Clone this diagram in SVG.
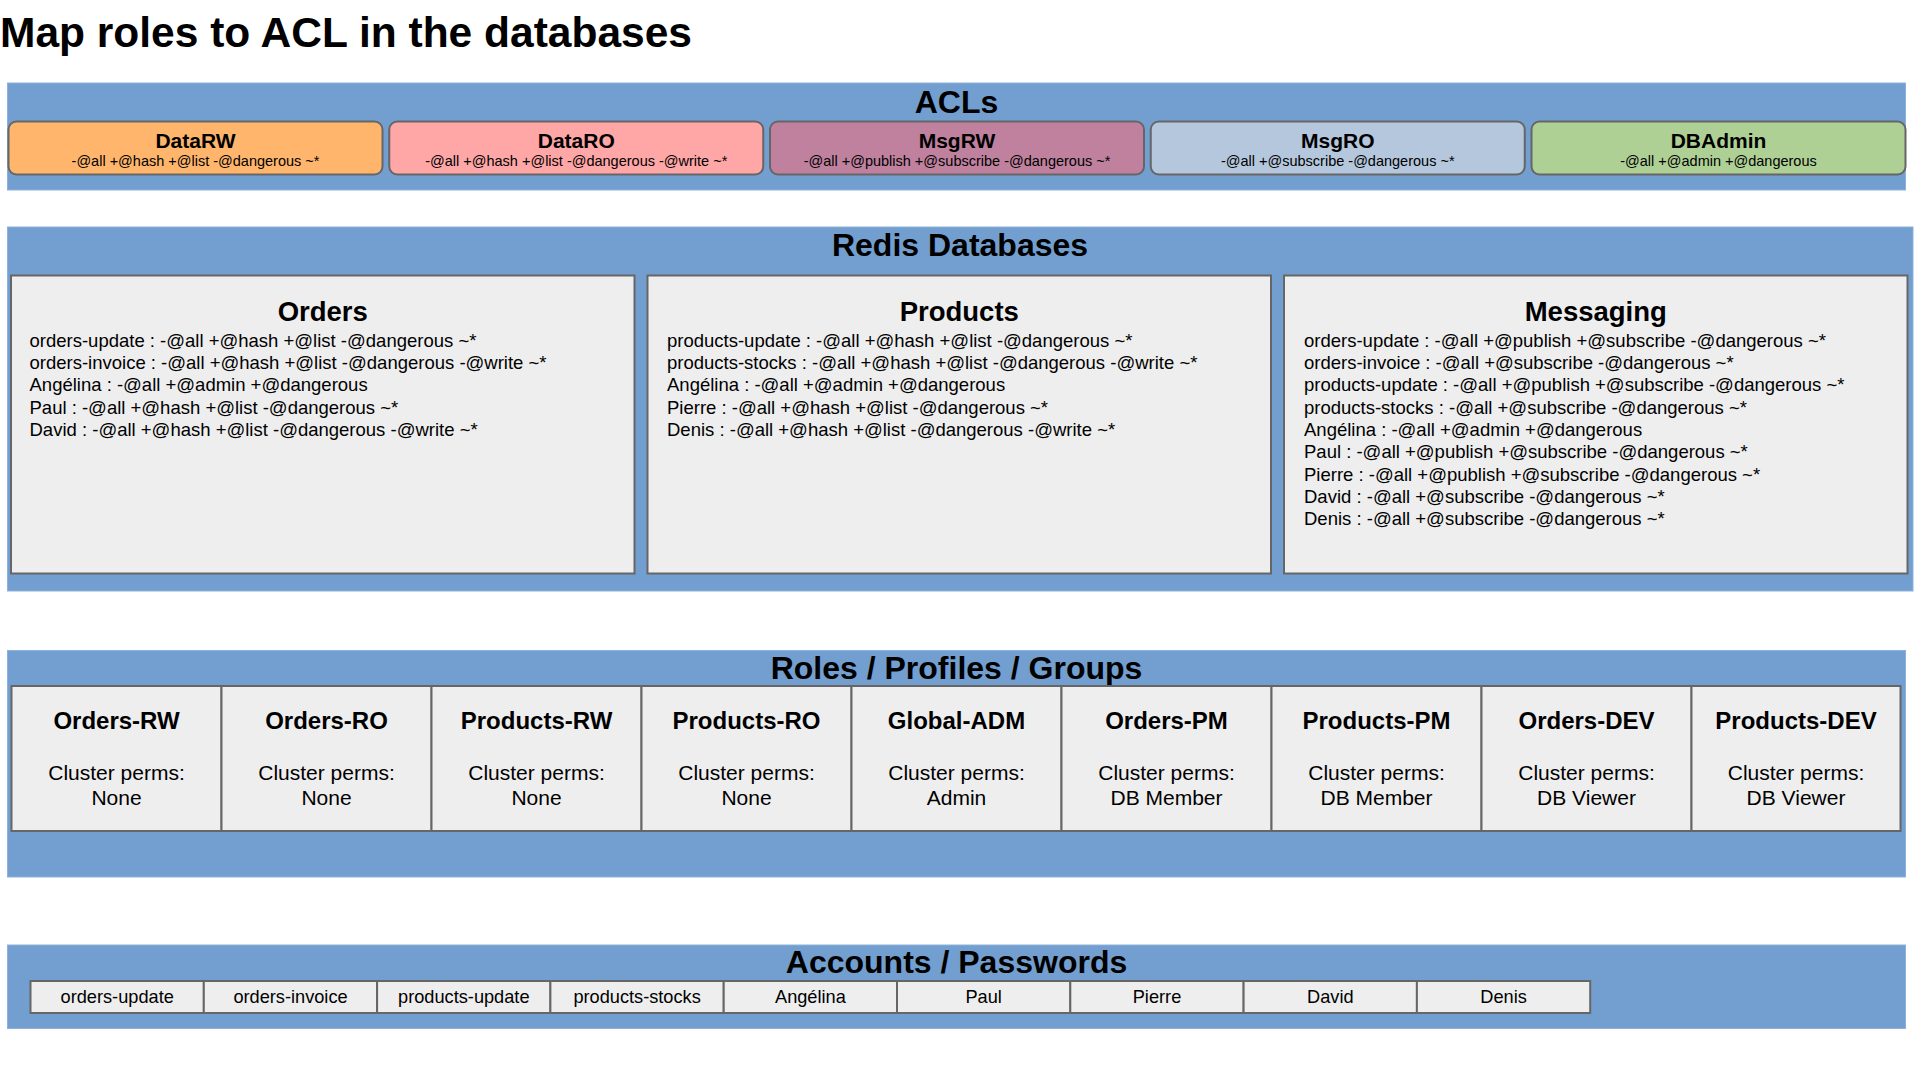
<svg xmlns="http://www.w3.org/2000/svg" width="1920" height="1080" viewBox="0 0 1920 1080">
<style>
text{font-family:"Liberation Sans",Arial,sans-serif;fill:#000}
.band{fill:#729fcf;stroke:#8db1da;stroke-width:1}
.box{fill:#eeeeee;stroke:#666666;stroke-width:2}
.acl{stroke:#666666;stroke-width:2}
.title{font-size:42.5px;font-weight:bold}
.bt{font-size:32px;font-weight:bold;text-anchor:middle}
.at{font-size:21px;font-weight:bold;text-anchor:middle}
.as{font-size:14.5px;text-anchor:middle}
.dh{font-size:27.5px;font-weight:bold;text-anchor:middle}
.dl{font-size:18.5px}
.rt{font-size:24px;font-weight:bold;text-anchor:middle}
.rs{font-size:21px;text-anchor:middle}
.ac{font-size:18.2px;text-anchor:middle}
</style>
<rect width="1920" height="1080" fill="#ffffff"/>
<text class="title" x="0" y="46.5">Map roles to ACL in the databases</text>

<g id="acls">
<rect class="band" x="7.5" y="83" width="1898" height="107"/>
<text class="bt" x="956.5" y="112.5">ACLs</text>
<g id="acl-datarw"><rect class="acl" x="8.5" y="121.5" width="374" height="53" rx="8" fill="#ffb66c"/><text class="at" x="195.5" y="148">DataRW</text><text class="as" x="195.5" y="166">-@all +@hash +@list -@dangerous ~*</text></g>
<g id="acl-dataro"><rect class="acl" x="389.25" y="121.5" width="374" height="53" rx="8" fill="#ffa6a6"/><text class="at" x="576.25" y="148">DataRO</text><text class="as" x="576.25" y="166">-@all +@hash +@list -@dangerous -@write ~*</text></g>
<g id="acl-msgrw"><rect class="acl" x="770" y="121.5" width="374" height="53" rx="8" fill="#bf819e"/><text class="at" x="957" y="148">MsgRW</text><text class="as" x="957" y="166">-@all +@publish +@subscribe -@dangerous ~*</text></g>
<g id="acl-msgro"><rect class="acl" x="1150.75" y="121.5" width="374" height="53" rx="8" fill="#b4c7dc"/><text class="at" x="1337.75" y="148">MsgRO</text><text class="as" x="1337.75" y="166">-@all +@subscribe -@dangerous ~*</text></g>
<g id="acl-dbadmin"><rect class="acl" x="1531.5" y="121.5" width="374" height="53" rx="8" fill="#afd095"/><text class="at" x="1718.5" y="148">DBAdmin</text><text class="as" x="1718.5" y="166">-@all +@admin +@dangerous</text></g>
</g>

<g id="redis-databases">
<rect class="band" x="7.5" y="227" width="1905.5" height="364"/>
<text class="bt" x="960" y="256">Redis Databases</text>
<g id="db-orders">
<rect class="box" x="11" y="275.5" width="623.5" height="298"/>
<text class="dh" x="322.75" y="321">Orders</text>
<text class="dl" x="29.5" y="346.7">orders-update : -@all +@hash +@list -@dangerous ~*</text>
<text class="dl" x="29.5" y="369">orders-invoice : -@all +@hash +@list -@dangerous -@write ~*</text>
<text class="dl" x="29.5" y="391.3">Angélina : -@all +@admin +@dangerous</text>
<text class="dl" x="29.5" y="413.6">Paul : -@all +@hash +@list -@dangerous ~*</text>
<text class="dl" x="29.5" y="435.9">David : -@all +@hash +@list -@dangerous -@write ~*</text>
</g>
<g id="db-products">
<rect class="box" x="647.5" y="275.5" width="623.5" height="298"/>
<text class="dh" x="959.25" y="321">Products</text>
<text class="dl" x="667" y="346.7">products-update : -@all +@hash +@list -@dangerous ~*</text>
<text class="dl" x="667" y="369">products-stocks : -@all +@hash +@list -@dangerous -@write ~*</text>
<text class="dl" x="667" y="391.3">Angélina : -@all +@admin +@dangerous</text>
<text class="dl" x="667" y="413.6">Pierre : -@all +@hash +@list -@dangerous ~*</text>
<text class="dl" x="667" y="435.9">Denis : -@all +@hash +@list -@dangerous -@write ~*</text>
</g>
<g id="db-messaging">
<rect class="box" x="1284" y="275.5" width="623.5" height="298"/>
<text class="dh" x="1595.75" y="321">Messaging</text>
<text class="dl" x="1304" y="346.7">orders-update : -@all +@publish +@subscribe -@dangerous ~*</text>
<text class="dl" x="1304" y="369">orders-invoice : -@all +@subscribe -@dangerous ~*</text>
<text class="dl" x="1304" y="391.3">products-update : -@all +@publish +@subscribe -@dangerous ~*</text>
<text class="dl" x="1304" y="413.6">products-stocks : -@all +@subscribe -@dangerous ~*</text>
<text class="dl" x="1304" y="435.9">Angélina : -@all +@admin +@dangerous</text>
<text class="dl" x="1304" y="458.2">Paul : -@all +@publish +@subscribe -@dangerous ~*</text>
<text class="dl" x="1304" y="480.5">Pierre : -@all +@publish +@subscribe -@dangerous ~*</text>
<text class="dl" x="1304" y="502.8">David : -@all +@subscribe -@dangerous ~*</text>
<text class="dl" x="1304" y="525.1">Denis : -@all +@subscribe -@dangerous ~*</text>
</g>
</g>

<g id="roles">
<rect class="band" x="7.5" y="650.5" width="1898" height="226.5"/>
<text class="bt" x="956.5" y="679">Roles / Profiles / Groups</text>
<g id="role-orders-rw"><rect class="box" x="11.5" y="686" width="210" height="145"/><text class="rt" x="116.5" y="728.5">Orders-RW</text><text class="rs" x="116.5" y="780">Cluster perms:</text><text class="rs" x="116.5" y="805">None</text></g>
<g id="role-orders-ro"><rect class="box" x="221.5" y="686" width="210" height="145"/><text class="rt" x="326.5" y="728.5">Orders-RO</text><text class="rs" x="326.5" y="780">Cluster perms:</text><text class="rs" x="326.5" y="805">None</text></g>
<g id="role-products-rw"><rect class="box" x="431.5" y="686" width="210" height="145"/><text class="rt" x="536.5" y="728.5">Products-RW</text><text class="rs" x="536.5" y="780">Cluster perms:</text><text class="rs" x="536.5" y="805">None</text></g>
<g id="role-products-ro"><rect class="box" x="641.5" y="686" width="210" height="145"/><text class="rt" x="746.5" y="728.5">Products-RO</text><text class="rs" x="746.5" y="780">Cluster perms:</text><text class="rs" x="746.5" y="805">None</text></g>
<g id="role-global-adm"><rect class="box" x="851.5" y="686" width="210" height="145"/><text class="rt" x="956.5" y="728.5">Global-ADM</text><text class="rs" x="956.5" y="780">Cluster perms:</text><text class="rs" x="956.5" y="805">Admin</text></g>
<g id="role-orders-pm"><rect class="box" x="1061.5" y="686" width="210" height="145"/><text class="rt" x="1166.5" y="728.5">Orders-PM</text><text class="rs" x="1166.5" y="780">Cluster perms:</text><text class="rs" x="1166.5" y="805">DB Member</text></g>
<g id="role-products-pm"><rect class="box" x="1271.5" y="686" width="210" height="145"/><text class="rt" x="1376.5" y="728.5">Products-PM</text><text class="rs" x="1376.5" y="780">Cluster perms:</text><text class="rs" x="1376.5" y="805">DB Member</text></g>
<g id="role-orders-dev"><rect class="box" x="1481.5" y="686" width="210" height="145"/><text class="rt" x="1586.5" y="728.5">Orders-DEV</text><text class="rs" x="1586.5" y="780">Cluster perms:</text><text class="rs" x="1586.5" y="805">DB Viewer</text></g>
<g id="role-products-dev"><rect class="box" x="1691.5" y="686" width="209" height="145"/><text class="rt" x="1796" y="728.5">Products-DEV</text><text class="rs" x="1796" y="780">Cluster perms:</text><text class="rs" x="1796" y="805">DB Viewer</text></g>
</g>

<g id="accounts">
<rect class="band" x="7.5" y="945" width="1898" height="83.5"/>
<text class="bt" x="956.5" y="973">Accounts / Passwords</text>
<g id="acc-orders-update"><rect class="box" x="30.5" y="981" width="173.3" height="32"/><text class="ac" x="117.2" y="1003.3">orders-update</text></g>
<g id="acc-orders-invoice"><rect class="box" x="203.8" y="981" width="173.3" height="32"/><text class="ac" x="290.5" y="1003.3">orders-invoice</text></g>
<g id="acc-products-update"><rect class="box" x="377.1" y="981" width="173.3" height="32"/><text class="ac" x="463.8" y="1003.3">products-update</text></g>
<g id="acc-products-stocks"><rect class="box" x="550.4" y="981" width="173.3" height="32"/><text class="ac" x="637.1" y="1003.3">products-stocks</text></g>
<g id="acc-angelina"><rect class="box" x="723.7" y="981" width="173.3" height="32"/><text class="ac" x="810.4" y="1003.3">Angélina</text></g>
<g id="acc-paul"><rect class="box" x="897" y="981" width="173.3" height="32"/><text class="ac" x="983.7" y="1003.3">Paul</text></g>
<g id="acc-pierre"><rect class="box" x="1070.3" y="981" width="173.3" height="32"/><text class="ac" x="1157" y="1003.3">Pierre</text></g>
<g id="acc-david"><rect class="box" x="1243.6" y="981" width="173.3" height="32"/><text class="ac" x="1330.3" y="1003.3">David</text></g>
<g id="acc-denis"><rect class="box" x="1416.9" y="981" width="173.3" height="32"/><text class="ac" x="1503.6" y="1003.3">Denis</text></g>
</g>

<g id="connectors"/>
</svg>
